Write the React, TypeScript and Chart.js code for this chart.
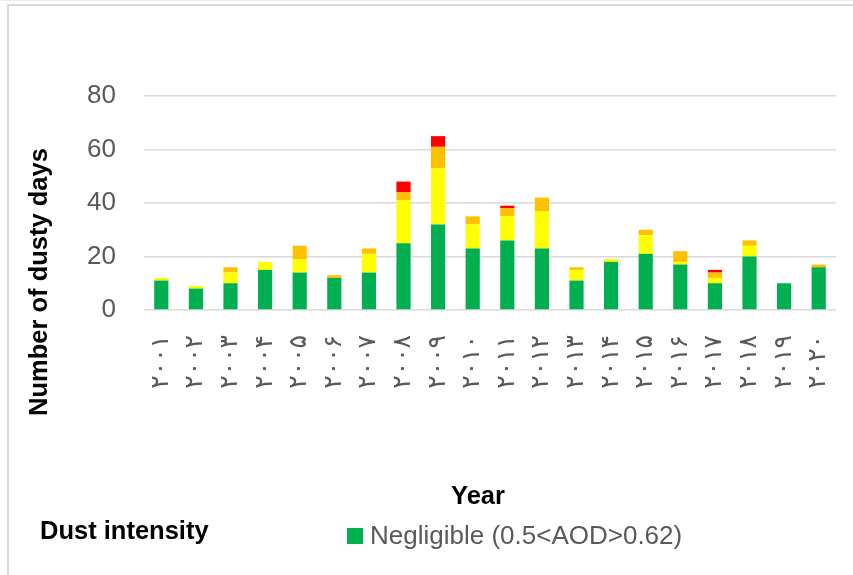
import React, { useEffect, useRef } from "react";
import { Chart, registerables } from "chart.js";

Chart.register(...registerables);

// Years 2001–2020 written with Persian digits
const years = [
  "۲۰۰۱", "۲۰۰۲", "۲۰۰۳", "۲۰۰۴", "۲۰۰۵", "۲۰۰۶", "۲۰۰۷", "۲۰۰۸", "۲۰۰۹", "۲۰۱۰",
  "۲۰۱۱", "۲۰۱۲", "۲۰۱۳", "۲۰۱۴", "۲۰۱۵", "۲۰۱۶", "۲۰۱۷", "۲۰۱۸", "۲۰۱۹", "۲۰۲۰",
];

const negligible = [11, 8, 10, 15, 14, 12, 14, 25, 32, 23, 26, 23, 11, 18, 21, 17, 10, 20, 10, 16];
const light = [1, 1, 4, 3, 5, 0, 7, 16, 21, 9, 9, 14, 4, 1, 7, 1, 2, 4, 0, 0];
const moderate = [0, 0, 2, 0, 5, 1, 2, 3, 8, 3, 3, 5, 1, 0, 2, 4, 2, 2, 0, 1];
const severe = [0, 0, 0, 0, 0, 0, 0, 4, 4, 0, 1, 0, 0, 0, 0, 0, 1, 0, 0, 0];

const seriesLabels = [
  "Negligible (0.5<AOD>0.62)",
  "Light",
  "Moderate",
  "Severe",
];
const seriesColors = ["#00B050", "#FFFF00", "#FFC000", "#FF0000"];

const yTicks = [0, 20, 40, 60, 80];
const yTitle = "Number of dusty days";
const xTitle = "Year";
const legendTitle = "Dust intensity";

const W = 853;
const H = 575;

export default function App() {
  const ref = useRef<HTMLCanvasElement | null>(null);

  useEffect(() => {
    const canvas = ref.current;
    if (!canvas) return;

    const decor = {
      id: "decor",
      beforeDraw(chart: any) {
        const ctx = chart.ctx;
        ctx.save();
        ctx.fillStyle = "#ffffff";
        ctx.fillRect(0, 0, W, H);
        ctx.strokeStyle = "#E6ECF5";
        ctx.lineWidth = 1;
        ctx.beginPath();
        ctx.moveTo(0, 0.5);
        ctx.lineTo(W, 0.5);
        ctx.stroke();
        ctx.strokeStyle = "#D9D9D9";
        ctx.lineWidth = 2;
        ctx.strokeRect(8, 5, W + 50, H + 50);
        ctx.restore();
      },
      afterDraw(chart: any) {
        const ctx = chart.ctx;
        ctx.save();
        ctx.fillStyle = "#000000";
        ctx.font = 'bold 25.5px "Liberation Sans", Arial, sans-serif';
        ctx.textAlign = "center";
        ctx.textBaseline = "middle";
        ctx.save();
        ctx.translate(40, 282);
        ctx.rotate(-Math.PI / 2);
        ctx.fillText(yTitle, 0, 0);
        ctx.restore();
        ctx.fillText(xTitle, 478, 497);
        ctx.textAlign = "left";
        ctx.fillText(legendTitle, 40, 532);
        ctx.fillStyle = seriesColors[0];
        ctx.fillRect(347, 528, 16, 16);
        ctx.fillStyle = "#595959";
        ctx.font = '26px "Liberation Sans", Arial, sans-serif';
        ctx.fillText(seriesLabels[0], 370, 537);
        ctx.restore();
      },
    };

    const data = [negligible, light, moderate, severe];

    const chart = new Chart(canvas, {
      type: "bar",
      data: {
        labels: years,
        datasets: data.map((d, i) => ({
          label: seriesLabels[i],
          data: d,
          backgroundColor: seriesColors[i],
          borderWidth: 0,
          barPercentage: 0.41,
          categoryPercentage: 1,
        })),
      },
      options: {
        responsive: false,
        animation: false,
        layout: { padding: { left: 0, top: 96, right: 17, bottom: 0 } },
        plugins: {
          legend: { display: false },
          tooltip: { enabled: false },
          title: { display: false },
        },
        scales: {
          x: {
            stacked: true,
            grid: { display: false },
            border: { display: false },
            ticks: {
              autoSkip: false,
              minRotation: 90,
              maxRotation: 90,
              padding: 17,
              color: "#595959",
              font: { family: '"DejaVu Sans", sans-serif', size: 25 },
            },
            afterFit(scale: any) {
              scale.height = H - 310;
              scale.paddingLeft = 0;
              scale.paddingRight = 0;
            },
          },
          y: {
            stacked: true,
            min: 0,
            max: 80,
            afterBuildTicks(scale: any) {
              scale.ticks = yTicks.map((v) => ({ value: v }));
            },
            grid: { color: "#D9D9D9", lineWidth: 1.5, drawTicks: false },
            border: { display: false },
            ticks: {
              padding: 28,
              color: "#595959",
              font: { family: '"Liberation Sans", Arial, sans-serif', size: 26 },
            },
            afterFit(scale: any) {
              scale.width = 144;
              scale.paddingTop = 0;
              scale.paddingBottom = 0;
            },
          },
        },
      },
      plugins: [decor],
    });

    return () => chart.destroy();
  }, []);

  return (
    <div style={{ position: "absolute", left: 0, top: 0, width: W, height: H, background: "#fff" }}>
      <canvas ref={ref} width={W} height={H} style={{ display: "block", width: W, height: H }} />
    </div>
  );
}
